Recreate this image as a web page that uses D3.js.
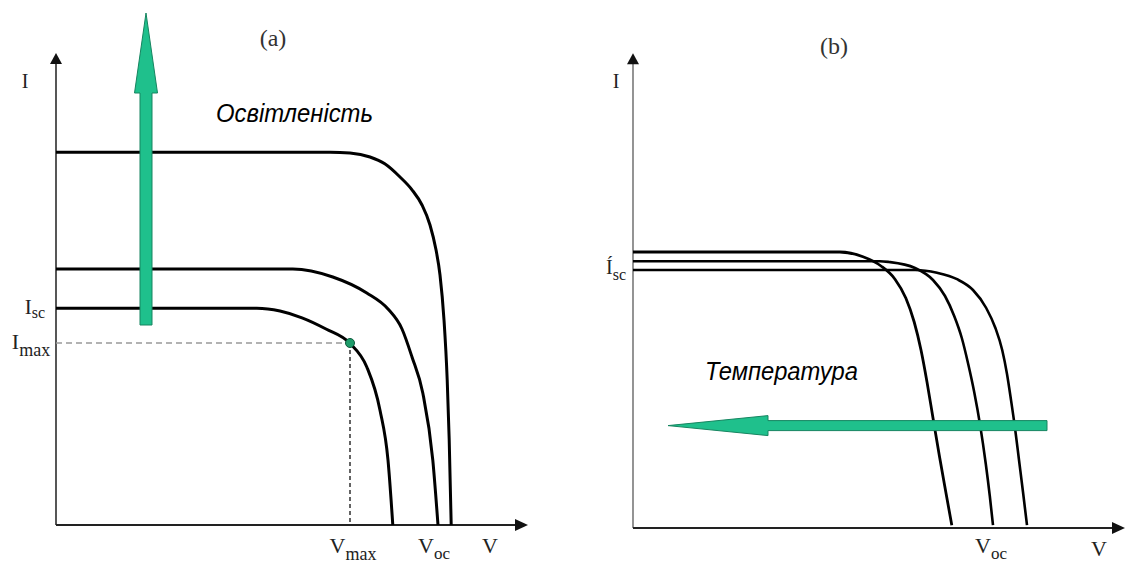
<!DOCTYPE html>
<html>
<head>
<meta charset="utf-8">
<script src="https://cdn.jsdelivr.net/npm/d3@7"></script>
<style>
  body { margin: 0; background: #fff; }
</style>
</head>
<body>
<div id="chart"></div>
<script>

// panel (a): I-V curves for three illumination levels, [V, I] in relative units
var illumHigh = [[0,93.2],[68.5,93.2],[73.5,93],[78.5,92],[82.2,90.3],[86,87],[89,83.8],[91.5,80],
                 [93.5,75],[95,68.8],[96,62.5],[97,51.3],[97.8,36.3],[98.3,21.3],[98.8,0]];
var illumMid  = [[0,64],[59.2,64],[69.2,62],[77.7,58],[83,54],[86.5,49],[89,42],[91.7,33],[94.2,16.2],[95.5,0]];
var illumLow  = [[0,54.2],[50.2,54.2],[56,53.5],[61.5,51.8],[67.5,49],[73.5,45.4],[77.7,39.5],[81,28.7],[83,16.2],[84.2,0]];
var maxPower = [73.5, 45.5];   // [Vmax, Imax] on the lowest curve

// panel (b): I-V curves for three temperatures
var tempHot  = [[0,69],[51.7,69],[57.5,67.8],[62,65.5],[65.5,62.2],[68.2,57.5],[70.3,51.5],[72,44.5],
                [73.5,36.5],[75,27.5],[76.6,18],[78.2,9],[79.7,0.7]];
var tempWarm = [[0,66.7],[61.7,66.7],[64,66.5],[70.5,65],[75,62],[78,58],[80.3,53],[82.2,47.5],
                [83.8,41],[85.3,34],[86.8,25.6],[88.2,16],[89.2,8],[90,0.7]];
var tempCold = [[0,64.5],[70.5,64.5],[76,63.8],[81,62.2],[85,59.5],[88.3,55],[90.6,50],[92.3,44.5],
                [93.5,38.5],[94.5,32],[95.5,25],[96.5,17],[97.5,9],[98.5,0.7]];

var width = 1126, height = 563;
var serif = "'Liberation Serif', 'Times New Roman', serif";
var sans = "'Liberation Sans', Arial, sans-serif";
var green = "#1fc08c", greenDark = "#168560";

var svg = d3.select("#chart")
  .append("svg")
    .attr("width", width)
    .attr("height", height);

// scales for both panels
var xA = d3.scaleLinear().domain([0, 100]).range([56, 456]);
var yA = d3.scaleLinear().domain([0, 100]).range([525, 125]);
var xB = d3.scaleLinear().domain([0, 100]).range([633, 1033]);
var yB = d3.scaleLinear().domain([0, 100]).range([528, 128]);

function triangle(tip, dir, len, half) {
  var p;
  if (dir == "up") p = [[tip[0], tip[1]], [tip[0] - half, tip[1] + len], [tip[0] + half, tip[1] + len]];
  else p = [[tip[0], tip[1]], [tip[0] - len, tip[1] - half], [tip[0] - len, tip[1] + half]];
  return "M" + p.join("L") + "Z";
}

function axes(x, y, xEnd, yEnd, yColor) {
  svg.append("line")
    .attr("x1", x(0)).attr("y1", y(0)).attr("x2", x(0)).attr("y2", y(yEnd) + 8)
    .style("stroke", yColor).style("stroke-width", 1.8);
  svg.append("path").attr("d", triangle([x(0), y(yEnd)], "up", 11, 6)).style("fill", "#111");
  svg.append("line")
    .attr("x1", x(0)).attr("y1", y(0)).attr("x2", x(xEnd) - 8).attr("y2", y(0))
    .style("stroke", "#222").style("stroke-width", 1.8);
  svg.append("path").attr("d", triangle([x(xEnd), y(0)], "right", 13, 6)).style("fill", "#111");
}

function curve(data, x, y, w) {
  var line = d3.line()
    .x(d => x(d[0]))
    .y(d => y(d[1]))
    .curve(d3.curveMonotoneX);
  svg.append("path")
    .datum(data)
    .attr("d", line)
    .style("fill", "none")
    .style("stroke", "#000")
    .style("stroke-width", w);
}

function label(x, y, main, sub, subDy, size, subSize) {
  var t = svg.append("text")
    .attr("x", x).attr("y", y)
    .attr("text-anchor", "middle")
    .style("font-family", serif)
    .style("font-size", size + "px")
    .style("fill", "#222");
  t.append("tspan").text(main);
  if (sub) t.append("tspan").attr("dy", subDy).style("font-size", subSize + "px").text(sub);
  return t;
}

// ---------- panel (a) ----------
axes(xA, yA, 118, 118, "#444");

// dashed guides to the maximum power point
svg.append("line")
  .attr("x1", xA(0)).attr("y1", yA(maxPower[1])).attr("x2", xA(maxPower[0])).attr("y2", yA(maxPower[1]))
  .style("stroke", "#999").style("stroke-width", 1.5).style("stroke-dasharray", "6,4");
svg.append("line")
  .attr("x1", xA(maxPower[0])).attr("y1", yA(maxPower[1])).attr("x2", xA(maxPower[0])).attr("y2", yA(0))
  .style("stroke", "#222").style("stroke-width", 1.4).style("stroke-dasharray", "4,3");

[illumHigh, illumMid, illumLow].forEach(c => curve(c, xA, yA, 3));

svg.append("circle")
  .attr("cx", xA(maxPower[0])).attr("cy", yA(maxPower[1])).attr("r", 4.5)
  .style("fill", "#1e9c6a").style("stroke", "#0d5a3c").style("stroke-width", 1);

// illumination arrow (up)
var ax = xA(22.5);
svg.append("path")
  .attr("d", "M" + [ax - 6, yA(50)] + "L" + [ax - 6, yA(108)] + "L" + [ax - 11.5, yA(108)] +
             "L" + [ax, yA(128)] + "L" + [ax + 11.5, yA(108)] + "L" + [ax + 6, yA(108)] +
             "L" + [ax + 6, yA(50)] + "Z")
  .style("fill", green).style("stroke", greenDark).style("stroke-width", 1);

svg.append("text")
  .attr("x", 216).attr("y", 122)
  .attr("textLength", 157).attr("lengthAdjust", "spacingAndGlyphs")
  .style("font-family", sans).style("font-style", "italic").style("font-size", "26px")
  .text("Освітленість");

svg.append("text").attr("x", 273).attr("y", 46).attr("text-anchor", "middle")
  .style("font-family", serif).style("font-size", "24px").style("fill", "#333").text("(a)");
svg.append("text").attr("x", 25).attr("y", 88).attr("text-anchor", "middle")
  .style("font-family", serif).style("font-size", "20px").style("fill", "#222").text("I");

label(35, yA(54.2) + 6, "I", "sc", 4, 21, 16);
label(31, yA(maxPower[1]) + 6, "I", "max", 7, 22, 18);
label(xA(maxPower[0]) + 3, 553, "V", "max", 7, 22, 18);
label(xA(94.5), 553, "V", "oc", 6, 22, 17);
label(xA(108.5), 553, "V", null, 0, 22, 0);

// ---------- panel (b) ----------
axes(xB, yB, 123, 118.7, "#888");

[tempCold, tempWarm].forEach(c => curve(c, xB, yB, 2.6));
curve(tempHot, xB, yB, 2.8);

// temperature arrow (left)
var ay = yB(25.6);
svg.append("path")
  .attr("d", "M" + [xB(103.5), ay - 5] + "L" + [xB(33.75), ay - 5] + "L" + [xB(33.75), ay - 10] +
             "L" + [xB(8.75), ay] + "L" + [xB(33.75), ay + 10] + "L" + [xB(33.75), ay + 5] +
             "L" + [xB(103.5), ay + 5] + "Z")
  .style("fill", green).style("stroke", greenDark).style("stroke-width", 1);

svg.append("text")
  .attr("x", 705).attr("y", 380)
  .attr("textLength", 153).attr("lengthAdjust", "spacingAndGlyphs")
  .style("font-family", sans).style("font-style", "italic").style("font-size", "25px")
  .text("Температура");

svg.append("text").attr("x", 834).attr("y", 54).attr("text-anchor", "middle")
  .style("font-family", serif).style("font-size", "24px").style("fill", "#333").text("(b)");
svg.append("text").attr("x", 616).attr("y", 88).attr("text-anchor", "middle")
  .style("font-family", serif).style("font-size", "20px").style("fill", "#222").text("I");

label(616, yB(64.5) + 4, "Í", "sc", 6, 20, 16);
label(xB(89.5), 553, "V", "oc", 6, 22, 17);
label(xB(116.5), 556, "V", null, 0, 22, 0);

</script>
</body>
</html>
